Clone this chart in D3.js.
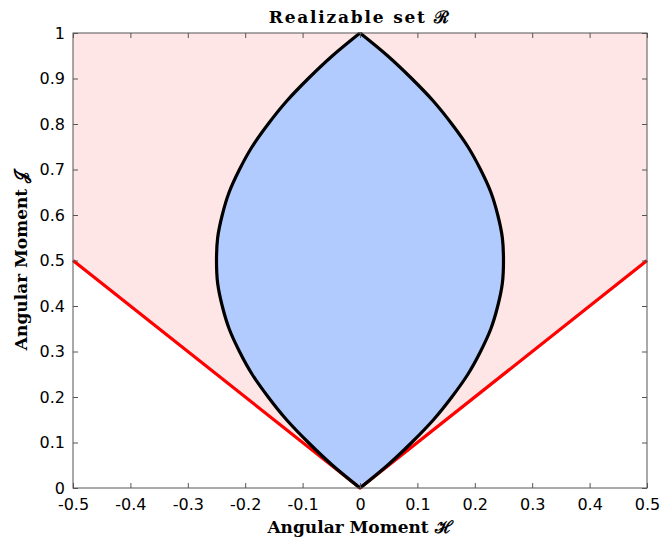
<!DOCTYPE html>
<html>
<head>
<meta charset="utf-8">
<script src="https://cdn.jsdelivr.net/npm/d3@7"></script>
<style>
  body { margin: 0; background: #fff; }
  svg text { font-family: "DejaVu Sans", sans-serif; }
  .lbl { font-family: "DejaVu Serif", serif; font-weight: bold; }
</style>
</head>
<body>
<div id="plot"></div>
<script>
// values
var realJ = [0, 0.05, 0.1, 0.15, 0.2, 0.25, 0.3, 0.35, 0.4, 0.45, 0.5,
             0.55, 0.6, 0.65, 0.7, 0.75, 0.8, 0.85, 0.9, 0.95, 1];
var realH = [0, 0.048, 0.09, 0.128, 0.16, 0.188, 0.21, 0.228, 0.24, 0.248, 0.25,
             0.248, 0.24, 0.228, 0.21, 0.188, 0.16, 0.128, 0.09, 0.048, 0];
// red bound J = |H|
var boundH = [-0.5, 0, 0.5];
var boundJ = [0.5, 0, 0.5];
// pink region above the bound
var pinkH = [-0.5, 0, 0.5, 0.5, -0.5];
var pinkJ = [0.5, 0, 0.5, 1, 1];

var xTicks = [-0.5, -0.4, -0.3, -0.2, -0.1, 0, 0.1, 0.2, 0.3, 0.4, 0.5];
var xTickLabels = ['-0.5', '-0.4', '-0.3', '-0.2', '-0.1', '0', '0.1', '0.2', '0.3', '0.4', '0.5'];
var yTicks = [0, 0.1, 0.2, 0.3, 0.4, 0.5, 0.6, 0.7, 0.8, 0.9, 1];
var yTickLabels = ['0', '0.1', '0.2', '0.3', '0.4', '0.5', '0.6', '0.7', '0.8', '0.9', '1'];

var margin = {t:33, r:14, b:53, l:73};
var W = 661, H = 541;
var width = W - margin.l - margin.r,
    height = H - margin.t - margin.b;

var svg = d3.select('#plot').append('svg')
    .attr('width', W)
    .attr('height', H);
var plot = svg.append('g')
    .attr('transform', 'translate(' + margin.l + ',' + margin.t + ')');

var x = d3.scaleLinear().domain([-0.5, 0.5]).range([0, width]);
var y = d3.scaleLinear().domain([0, 1]).range([height, 0]);

var pinkPts = pinkH.map(function(h, i){ return [h, pinkJ[i]]; });
var boundPts = boundH.map(function(h, i){ return [h, boundJ[i]]; });
var lens = realJ.map(function(j, i){ return {J: j, H: realH[i]}; });

// pink region
plot.append('path')
    .datum(pinkPts)
    .attr('d', d3.line().x(function(d){ return x(d[0]); }).y(function(d){ return y(d[1]); }))
    .style('fill', '#ffe6e6')
    .style('stroke', 'none');

// blue lens
plot.append('path')
    .datum(lens)
    .attr('d', d3.area()
        .y(function(d){ return y(d.J); })
        .x0(function(d){ return x(-d.H); })
        .x1(function(d){ return x(d.H); })
        .curve(d3.curveCatmullRom))
    .style('fill', '#b1cbff')
    .style('stroke', 'none');

// red bound
plot.append('path')
    .datum(boundPts)
    .attr('d', d3.line().x(function(d){ return x(d[0]); }).y(function(d){ return y(d[1]); }))
    .style('fill', 'none')
    .style('stroke', '#ff0000')
    .style('stroke-width', 3.2);

// black lens outline, both sides
[1, -1].forEach(function(s){
    plot.append('path')
        .datum(lens)
        .attr('d', d3.line()
            .x(function(d){ return x(s * d.H); })
            .y(function(d){ return y(d.J); })
            .curve(d3.curveCatmullRom))
        .style('fill', 'none')
        .style('stroke', '#000')
        .style('stroke-width', 3.2)
        .style('stroke-linejoin', 'round');
});

// axes, ticks inside on all four sides
function styleAxis(g){
    g.select('.domain').remove();
    g.selectAll('.tick line').attr('stroke', '#555');
    g.selectAll('.tick text').style('font-size', '16px').attr('fill', '#000');
}
plot.append('g')
    .attr('transform', 'translate(0,' + height + ')')
    .call(d3.axisBottom(x).tickValues(xTicks).tickSize(-5).tickPadding(11)
        .tickFormat(function(d, i){ return xTickLabels[i]; }))
    .call(styleAxis);
plot.append('g')
    .call(d3.axisTop(x).tickValues(xTicks).tickSize(-5).tickFormat(''))
    .call(styleAxis);
plot.append('g')
    .call(d3.axisLeft(y).tickValues(yTicks).tickSize(-5).tickPadding(8)
        .tickFormat(function(d, i){ return yTickLabels[i]; }))
    .call(styleAxis);
plot.append('g')
    .attr('transform', 'translate(' + width + ',0)')
    .call(d3.axisRight(y).tickValues(yTicks).tickSize(-5).tickFormat(''))
    .call(styleAxis);

plot.append('rect')
    .attr('x', 0).attr('y', 0)
    .attr('width', width).attr('height', height)
    .style('fill', 'none')
    .style('stroke', '#555')
    .style('stroke-width', 1);

// title and labels
svg.append('text')
    .attr('class', 'lbl')
    .attr('x', margin.l + width / 2)
    .attr('y', 23)
    .attr('text-anchor', 'middle')
    .style('font-size', '17px')
    .style('letter-spacing', '1.8px')
    .text('Realizable set \u211B');

svg.append('text')
    .attr('class', 'lbl')
    .attr('x', margin.l + width / 2)
    .attr('y', 533)
    .attr('text-anchor', 'middle')
    .style('font-size', '17px')
    .text('Angular Moment \u210B');

svg.append('text')
    .attr('class', 'lbl')
    .attr('transform', 'translate(27,' + (margin.t + height / 2) + ') rotate(-90)')
    .attr('text-anchor', 'middle')
    .style('font-size', '17px')
    .text('Angular Moment \uD835\uDCA5');
</script>
</body>
</html>
